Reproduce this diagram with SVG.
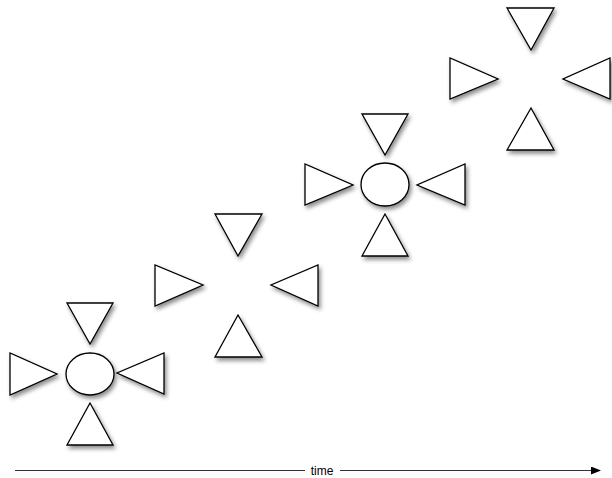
<svg xmlns="http://www.w3.org/2000/svg" width="612" height="478" viewBox="0 0 612 478">
<style>
.s{fill:#fff;stroke:#000;stroke-width:1.3;filter:url(#sh)}
.axis{stroke:#333;stroke-width:1.2;fill:none}
.lbl{font-family:"Liberation Sans",Arial,sans-serif;font-size:12px;fill:#000}
</style>
<defs>
<filter id="sh" x="-30%" y="-30%" width="170%" height="170%">
<feDropShadow dx="2" dy="3" stdDeviation="2" flood-color="#000" flood-opacity="0.45"/>
</filter>
<marker id="ah" markerWidth="10" markerHeight="8" refX="9" refY="4" orient="auto" markerUnits="userSpaceOnUse">
<path d="M0,0 L10,4 L0,8 z" fill="#000"/>
</marker>
</defs>
<rect width="612" height="478" fill="#fff"/>
<g id="state1">
<polygon class="s" points="67,303 113,303 90,344"/>
<polygon class="s" points="10,353 10,395 57,374"/>
<ellipse class="s" cx="90" cy="374" rx="24" ry="21"/>
<polygon class="s" points="164,353 164,394 117,373"/>
<polygon class="s" points="90,403 67,445 113,445"/>
</g>
<g id="state2">
<polygon class="s" points="215,214 262,214 238,256"/>
<polygon class="s" points="155,265 155,306 203,285"/>
<polygon class="s" points="318,265 318,306 271,285"/>
<polygon class="s" points="238,315 215,357 262,357"/>
</g>
<g id="state3">
<polygon class="s" points="362,114 408,114 385,155"/>
<polygon class="s" points="305,164 305,205 353,185"/>
<ellipse class="s" cx="385" cy="184.5" rx="24" ry="21.5"/>
<polygon class="s" points="465,164 465,205 417,185"/>
<polygon class="s" points="385,214 362,256 408,256"/>
</g>
<g id="state4">
<polygon class="s" points="507,8 554,8 531,50"/>
<polygon class="s" points="450,58 450,99 498,79"/>
<polygon class="s" points="610,58 610,99 563,79"/>
<polygon class="s" points="531,108 507,150 554,150"/>
</g>
<g id="connectors">
<line class="axis" x1="15" y1="470.5" x2="305" y2="470.5"/>
<line class="axis" x1="340" y1="470.5" x2="600" y2="470.5" marker-end="url(#ah)"/>
</g>
<text class="lbl" x="322" y="474.5" text-anchor="middle">time</text>
</svg>
